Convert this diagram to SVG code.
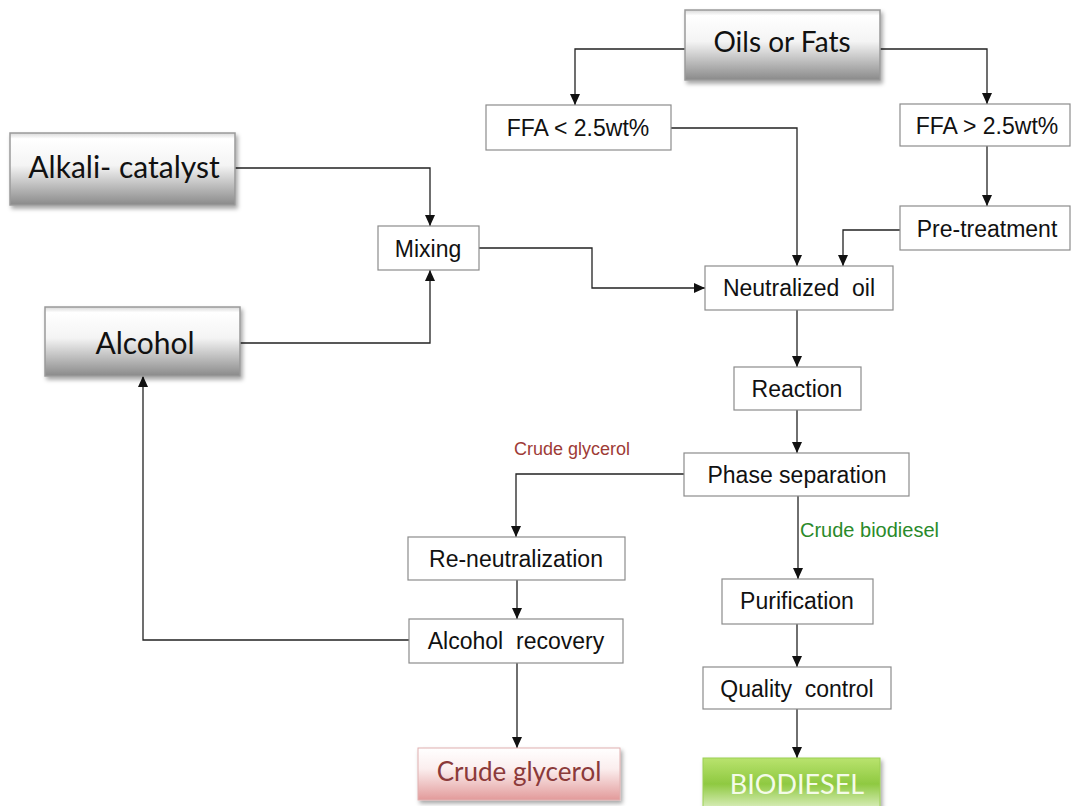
<svg xmlns="http://www.w3.org/2000/svg" width="1071" height="806" viewBox="0 0 1071 806">
<defs>
<linearGradient id="gGray" x1="0" y1="0" x2="0" y2="1">
<stop offset="0" stop-color="#d8d8d8"/>
<stop offset="0.08" stop-color="#ffffff"/>
<stop offset="0.45" stop-color="#f4f4f4"/>
<stop offset="1" stop-color="#8a8a8a"/>
</linearGradient>
<linearGradient id="gPink" x1="0" y1="0" x2="0" y2="1">
<stop offset="0" stop-color="#ffffff"/>
<stop offset="0.4" stop-color="#fbeeee"/>
<stop offset="1" stop-color="#e29a9a"/>
</linearGradient>
<linearGradient id="gGreen" x1="0" y1="0" x2="0" y2="1">
<stop offset="0" stop-color="#b9e36e"/>
<stop offset="0.5" stop-color="#8fc941"/>
<stop offset="1" stop-color="#dff0c4"/>
</linearGradient>
<filter id="sh" x="-10%" y="-10%" width="130%" height="140%">
<feDropShadow dx="2" dy="3" stdDeviation="2" flood-color="#000" flood-opacity="0.35"/>
</filter>
<marker id="ah" markerUnits="userSpaceOnUse" markerWidth="11" markerHeight="10" viewBox="0 0 11 10" refX="11" refY="5" orient="auto">
<path d="M0,0 L11,5 L0,10 z" fill="#111"/>
</marker>
</defs>
<style>
.box{fill:#fff;stroke:#8c8c8c;stroke-width:1.2}
.gbox{fill:url(#gGray);stroke:#9a9a9a;stroke-width:1.5;filter:url(#sh)}
.t{font-family:"Liberation Sans",Arial,sans-serif;font-size:23px;fill:#111;text-anchor:middle}
.big{font-family:Lato,"Liberation Sans",sans-serif;fill:#111;text-anchor:middle}
.lbl{font-family:"Liberation Sans",Arial,sans-serif}
.c{fill:none;stroke:#222;stroke-width:1.3}
.a{marker-end:url(#ah)}
</style>
<g id="connectors">
<path class="c a" d="M685,49 H575 V105"/>
<path class="c a" d="M880,49 H987 V104"/>
<path class="c a" d="M671,128 H797 V266"/>
<path class="c a" d="M987,146 V206"/>
<path class="c a" d="M900,230 H843 V266"/>
<path class="c a" d="M235,168 H430 V226"/>
<path class="c a" d="M479,248 H592 V288 H705"/>
<path class="c a" d="M240,343 H430 V270"/>
<path class="c a" d="M797,310 V367"/>
<path class="c a" d="M797,410 V453"/>
<path class="c a" d="M684,474 H516 V537"/>
<path class="c a" d="M798,496 V579"/>
<path class="c a" d="M517,580 V619"/>
<path class="c a" d="M409,640 H143 V376"/>
<path class="c a" d="M517,663 V748"/>
<path class="c a" d="M797,624 V667"/>
<path class="c a" d="M797,709 V758"/>
<text class="lbl" x="514" y="455" font-size="18" fill="#9e3b36">Crude glycerol</text>
<text class="lbl" x="800" y="537" font-size="20" fill="#2a8a2a">Crude biodiesel</text>
</g>
<g id="oils"><rect class="gbox" x="685" y="10" width="195" height="70"/><text class="big" x="782" y="52" font-size="28">Oils or Fats</text></g>
<g id="ffa-low"><rect class="box" x="486" y="105" width="185" height="45"/><text class="t" x="578" y="136">FFA &lt; 2.5wt%</text></g>
<g id="ffa-high"><rect class="box" x="900" y="104" width="170" height="42"/><text class="t" x="987" y="134">FFA &gt; 2.5wt%</text></g>
<g id="pretreatment"><rect class="box" x="900" y="206" width="170" height="44"/><text class="t" x="987" y="237">Pre-treatment</text></g>
<g id="alkali"><rect class="gbox" x="10" y="133" width="225" height="72"/><text class="big" x="124" y="178" font-size="30">Alkali- catalyst</text></g>
<g id="mixing"><rect class="box" x="378" y="226" width="101" height="44"/><text class="t" x="428" y="257">Mixing</text></g>
<g id="alcohol"><rect class="gbox" x="45" y="307" width="195" height="69"/><text class="big" x="145" y="354" font-size="30">Alcohol</text></g>
<g id="neutralized"><rect class="box" x="705" y="266" width="188" height="44"/><text class="t" x="799" y="296" xml:space="preserve">Neutralized  oil</text></g>
<g id="reaction"><rect class="box" x="734" y="367" width="127" height="43"/><text class="t" x="797" y="397">Reaction</text></g>
<g id="phase"><rect class="box" x="684" y="453" width="225" height="43"/><text class="t" x="797" y="483">Phase separation</text></g>
<g id="reneutral"><rect class="box" x="408" y="537" width="217" height="43"/><text class="t" x="516" y="567">Re-neutralization</text></g>
<g id="recovery"><rect class="box" x="409" y="619" width="214" height="44"/><text class="t" x="516" y="649" xml:space="preserve">Alcohol  recovery</text></g>
<g id="glycerol"><rect x="418" y="748" width="202" height="52" fill="url(#gPink)" stroke="#e0b0b0" stroke-width="1" filter="url(#sh)"/><text class="big" x="519" y="781" font-size="26" style="fill:#8b3a3a">Crude glycerol</text></g>
<g id="purification"><rect class="box" x="722" y="579" width="151" height="45"/><text class="t" x="797" y="609">Purification</text></g>
<g id="quality"><rect class="box" x="703" y="667" width="188" height="42"/><text class="t" x="797" y="697" xml:space="preserve">Quality  control</text></g>
<g id="biodiesel"><rect x="703" y="758" width="177" height="52" fill="url(#gGreen)" stroke="#9ccf55" stroke-width="1" filter="url(#sh)"/><text class="big" x="797" y="794" font-size="27" style="fill:#f4fbe8">BIODIESEL</text></g>
</svg>
